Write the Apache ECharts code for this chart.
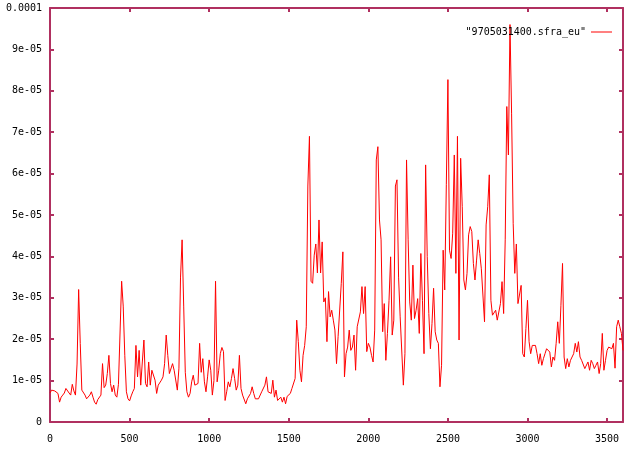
<!DOCTYPE html>
<html>
<head>
<meta charset="utf-8">
<script src="https://cdn.jsdelivr.net/npm/echarts@6/dist/echarts.min.js"></script>
<style>
html,body{margin:0;padding:0;background:#fff;}
#chart{width:640px;height:450px;}
</style>
</head>
<body>
<div id="chart"></div>
<script>
// Series name
const seriesName = '"9705031400.sfra_eu"';
// x positions: start and step of the sampled signal (x units)
const xStart = 0;
const xStep = 10;
// values in units of 1e-6
const values = [
7.0,7.7,8.1,7.5,7.3,6.9,4.8,6.0,6.5,7.0,
8.1,7.7,7.0,6.5,9.1,7.5,6.5,14,32,19,
7.7,7.3,6.5,5.6,5.2,6.5,7.3,6.0,4.8,4.3,
5.4,5.4,6.5,14.1,8.3,8.9,11.7,16.1,9.3,7.3,
8.9,6.5,6.0,9.1,9.1,34,28,16,7.3,5.6,
5.1,6.3,7.3,8.1,18.5,10.9,17.3,8.9,14.5,19.8,
9.3,8.5,14.5,8.9,12.5,12.1,10.1,6.9,8.9,9.3,
10.1,10.9,14.1,21,16.1,11.7,11.3,14.1,12.5,12.1,
7.7,13,35,44,28,12,7.3,6.0,6.9,9.7,
11.3,8.9,8.5,9.3,19,12,15.3,9.7,7.3,10.9,
15,12.5,6.5,10,34,9.7,12.5,16.5,18,17,
5.2,7.3,9.7,8.5,10.5,12.9,10.5,7.7,8.9,16.1,
8.1,6.5,6.5,4.4,5.6,6.0,6.9,8.5,6.9,5.6,
6.0,5.6,5.2,7.3,7.0,8.9,10.9,7.3,7.7,6.9,
10.1,6.0,7.7,5.2,5.5,6.0,4.8,6.0,4.4,6.2,
6.0,6.9,8.1,8.5,10.5,24.6,19.4,12.5,9.7,16.1,
18.5,23,57,69,34,33.5,40.3,43,36,48.8,
36,43.5,29,30,19.4,31.5,25.4,27,24.6,22.2,
14.1,20.6,20.2,33.5,41.1,10.9,16.5,18.1,22.2,17.3,
18.1,21,12.5,23,23,26.6,32.7,26.2,32.7,17,
19,18.1,16.1,14.5,22.2,63.3,66.5,48.8,44,21.8,
28.6,14.9,21.4,29.4,39.9,21,24.6,57,58.5,35,
25.4,25,8.9,16.5,63.3,44,29,24.6,37.9,25,
27,29.8,21.4,40.7,29.4,16.5,62.1,40,26.2,17.7,
23.8,32.3,21.8,19.8,19,8.5,13.7,41.5,31.9,57.3,
82.7,41.5,39.5,45.6,64.5,35.9,69,19.8,63.7,52,
34.3,31.9,35.9,45.2,47.2,46,38.3,34.3,39.1,44,
40.7,37,36.7,24.2,47.6,52,59.7,29.4,25.8,25.4,
27,24.6,25,28.6,33.9,26.2,44,76.2,64.5,96,
74.6,48,35.9,43,28.6,28.6,33,16.5,15.7,22.6,
29.4,19.4,16.5,18.5,18.1,18.5,16.5,14.1,16.5,13.7,
15.3,16.5,17.7,17.3,16.9,13.3,15.7,14.9,19,24.2,
19,28.2,38.3,15.7,12.9,15.3,13.3,14.9,14.5,16.5,
19,16.9,19.4,15.7,14.9,14.9,12.9,13.3,14.5,12.5,
14.9,14.1,12.9,13.7,14.5,11.7,14.1,21.4,12.5,14.9,
17.3,18.1,18.5,17.7,19,13,23,24.6,23,21.4,
17.3
];
// Tick labels
const xTickValues = [0,500,1000,1500,2000,2500,3000,3500];
const yTickLabels = ['0','1e-05','2e-05','3e-05','4e-05','5e-05','6e-05','7e-05','8e-05','9e-05','0.0001'];

const data = values.map((v, i) => [xStart + i * xStep, v]);

const borderColor = '#b03060';
const font = 'DejaVu Sans Mono';
const axisLineStyle = {color: borderColor, width: 2};
const tickStyle = {show: true, inside: true, length: 4, lineStyle: {color: borderColor, width: 2}};

const chart = echarts.init(document.getElementById('chart'), null, {renderer: 'canvas'});
chart.setOption({
  animation: false,
  backgroundColor: '#ffffff',
  grid: {left: 50, right: 17, top: 8, bottom: 28, outerBoundsMode: 'none', containLabel: false},
  legend: {
    data: [seriesName],
    right: 23, top: 22,
    align: 'right',
    icon: 'rect',
    itemWidth: 21, itemHeight: 1,
    textStyle: {fontFamily: font, fontSize: 10, color: '#000'},
    itemStyle: {color: '#ff0000'}
  },
  xAxis: [
    {type: 'value', position: 'bottom', min: 0, max: 3600, interval: 500,
     axisLine: {show: true, onZero: false, lineStyle: axisLineStyle},
     axisTick: {show: true, inside: true, length: 4, lineStyle: {color: borderColor, width: 2}, customValues: xTickValues},
     axisLabel: {show: true, margin: 12, fontFamily: font, fontSize: 10, color: '#000', customValues: xTickValues,
       formatter: v => String(v)},
     splitLine: {show: false}},
    {type: 'value', position: 'top', min: 0, max: 3600, interval: 500,
     axisLine: {show: true, onZero: false, lineStyle: axisLineStyle},
     axisTick: {show: true, inside: true, length: 4, lineStyle: {color: borderColor, width: 2}, customValues: xTickValues},
     axisLabel: {show: false},
     splitLine: {show: false}}
  ],
  yAxis: [
    {type: 'value', position: 'left', min: 0, max: 100, interval: 10,
     axisLine: {show: true, onZero: false, lineStyle: axisLineStyle},
     axisTick: tickStyle,
     axisLabel: {show: true, margin: 8, fontFamily: font, fontSize: 10, color: '#000',
       formatter: v => yTickLabels[Math.round(v / 10)]},
     splitLine: {show: false}},
    {type: 'value', position: 'right', min: 0, max: 100, interval: 10,
     axisLine: {show: true, onZero: false, lineStyle: axisLineStyle},
     axisTick: tickStyle,
     axisLabel: {show: false},
     splitLine: {show: false}}
  ],
  series: [{
    name: seriesName,
    type: 'line',
    xAxisIndex: 0, yAxisIndex: 0,
    data: data,
    showSymbol: false,
    symbol: 'none',
    lineStyle: {color: '#ff0000', width: 1},
    itemStyle: {color: '#ff0000'},
    clip: true
  }]
});
</script>
</body>
</html>
